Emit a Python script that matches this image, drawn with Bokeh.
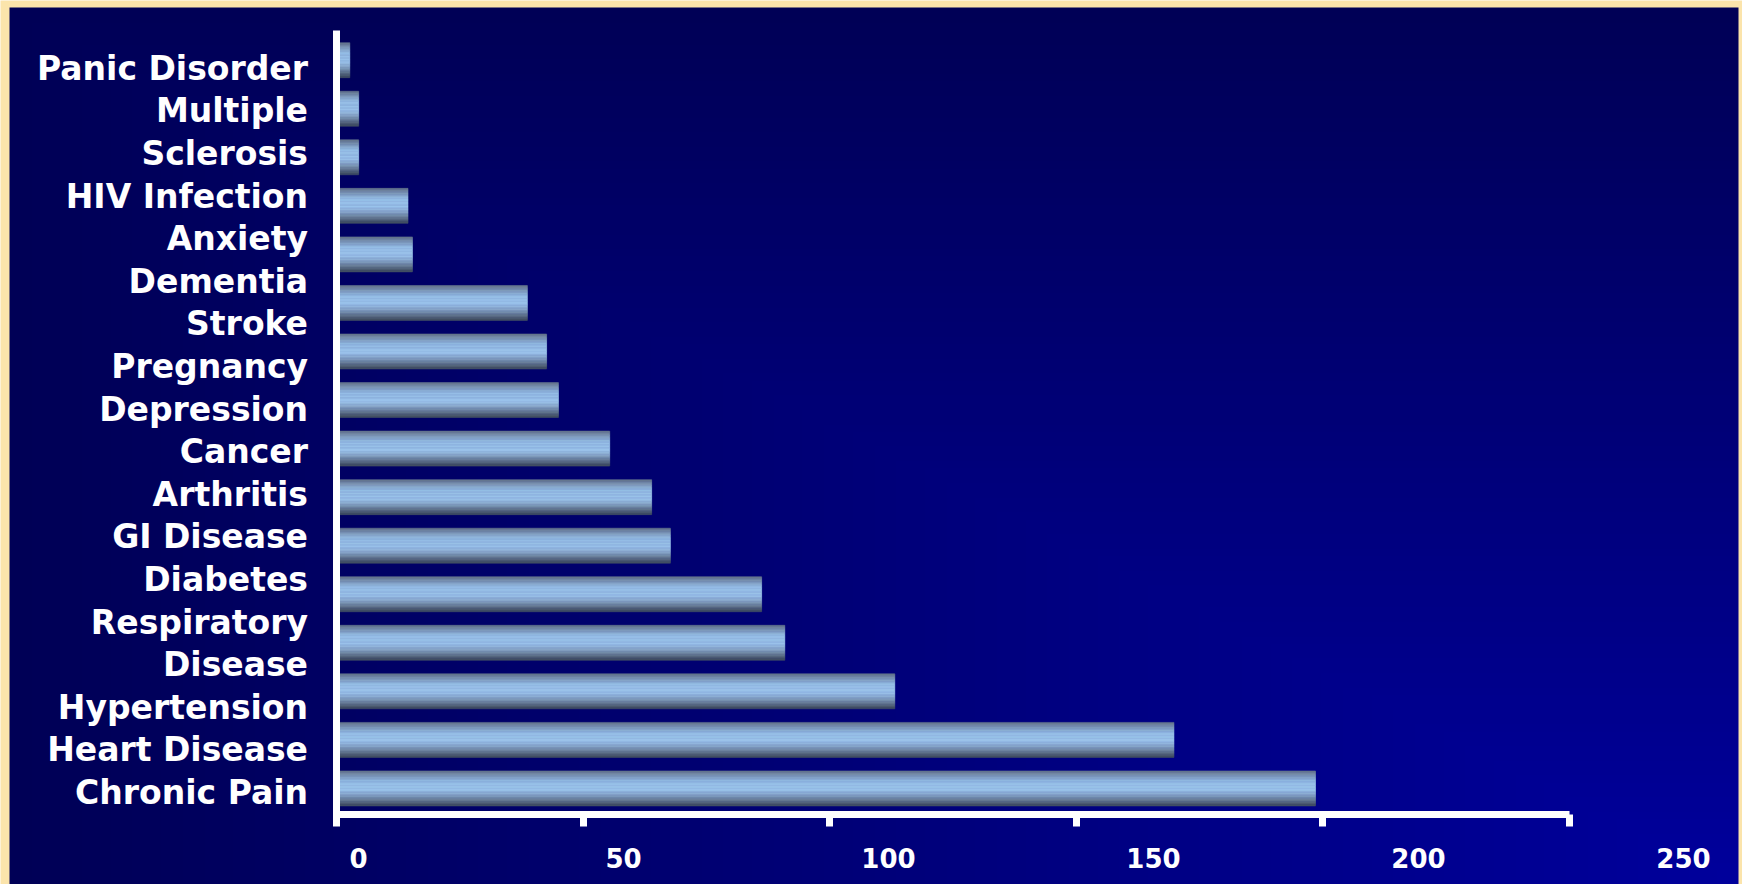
import numpy as np
from bokeh.plotting import figure
from bokeh.models import ColumnDataSource, Range1d, LinearAxis, FixedTicker
from bokeh.transform import dodge
from bokeh.core.properties import value
from bokeh.embed import file_html
from bokeh.resources import INLINE

# ---------------- data ----------------
categories = ["Panic Disorder", "Multiple Sclerosis", "HIV Infection", "Anxiety",
              "Dementia", "Stroke", "Pregnancy", "Depression", "Cancer", "Arthritis",
              "GI Disease", "Diabetes", "Respiratory Disease", "Hypertension",
              "Heart Disease", "Chronic Pain"]
values = [2.7, 4.5, 4.5, 14.5, 15.4, 38.7, 42.6, 45.0, 55.4, 63.9,
          67.7, 86.2, 90.9, 113.2, 169.8, 198.5]
label_lines = ["Panic Disorder", "Multiple", "Sclerosis", "HIV Infection", "Anxiety",
               "Dementia", "Stroke", "Pregnancy", "Depression", "Cancer", "Arthritis",
               "GI Disease", "Diabetes", "Respiratory", "Disease", "Hypertension",
               "Heart Disease", "Chronic Pain"]
tick_values = [0, 50, 100, 150, 200, 250]

# ---------------- layout (pixels on the canvas) ----------------
W, H = 1742, 884
X0_PX = 336.0          # canvas x of value 0
PX_PER_UNIT = 4.932    # pixels per value unit
ROW0_PX = 59.7         # canvas y of the first bar centre
ROW_PX = 48.55         # bar pitch
LINE0_PX = 67.8        # first label line centre
LINE_PX = 42.6         # label line pitch
TL0_PX = 358.0         # canvas x of tick label "0"
TL_PX_PER_UNIT = 5.30  # tick label spacing per value unit
LABEL_RIGHT_PX = 307.5
AXIS_Y_PX = 813.5
YAXIS_TOP_PX = 30.0
YAXIS_BOT_PX = 825.0
PANEL = (9, 7, 1738, 884)   # dark slide panel: left, top, right, bottom
BAR_H = 0.72

def x_of(px):
    return (px - X0_PX) / PX_PER_UNIT

def y_of(px):
    return (px - ROW0_PX) / ROW_PX

p = figure(width=W, height=H,
           x_range=Range1d(x_of(0), x_of(W)),
           y_range=Range1d(y_of(H), y_of(0)),
           output_backend="svg", toolbar_location=None,
           x_axis_location=None, y_axis_location=None,
           min_border=0, outline_line_color=None,
           background_fill_color="#fbe4ab", border_fill_color="#fbe4ab")
p.xgrid.grid_line_color = None
p.ygrid.grid_line_color = None

p.extra_x_ranges = {"bg": Range1d(0, W),
                    "ticklab": Range1d(-TL0_PX / TL_PX_PER_UNIT, (W - TL0_PX) / TL_PX_PER_UNIT)}
p.extra_y_ranges = {"bg": Range1d(0, H),
                    "lines": Range1d((H - LINE0_PX) / LINE_PX, -LINE0_PX / LINE_PX)}

# ---------------- background gradient (brightening towards bottom-right corner) ----------------
R, C = 120, 240
u = (np.arange(C) + 0.5) / C
v = (np.arange(R) + 0.5) / R          # row 0 = bottom
f = 1.0 - np.maximum(1.0 - u[None, :], v[:, None])
img = np.zeros((R, C), dtype=np.uint32)
view = img.view(dtype=np.uint8).reshape((R, C, 4))
view[..., 0] = 0
view[..., 1] = 0
view[..., 2] = (86 + 70 * f).astype(np.uint8)
view[..., 3] = 255
pl, pt, pr, pb = PANEL
p.image_rgba(image=[img], x=pl, y=H - pb, dw=pr - pl, dh=pb - pt,
             x_range_name="bg", y_range_name="bg")

# ---------------- bars with cylinder shading ----------------
stops_t = [0.0, 0.12, 0.3, 0.55, 0.7, 0.85, 1.0]
stops_c = [(96, 112, 134), (122, 147, 178), (150, 190, 230), (156, 196, 236),
           (135, 165, 200), (100, 120, 145), (60, 72, 92)]
source = ColumnDataSource(dict(y=list(range(len(categories))), right=values, cat=categories))
K = 24
for k in range(K):
    t = (k + 0.5) / K
    col = tuple(int(round(np.interp(t, stops_t, [c[i] for c in stops_c]))) for i in range(3))
    off = -BAR_H / 2 + (k + 0.5) * BAR_H / K
    hx = "#%02x%02x%02x" % col
    p.hbar(y=dodge("y", off), left=0, right="right", height=BAR_H / K,
           fill_color=hx, line_color=hx, line_width=0.6, source=source)

# ---------------- category labels ----------------
lab_src = ColumnDataSource(dict(j=list(range(len(label_lines))), t=label_lines))
p.text(x=x_of(LABEL_RIGHT_PX), y="j", text="t", source=lab_src, y_range_name="lines",
       text_align="right", text_baseline="middle", text_color="white",
       text_font=value("DejaVu Sans"), text_font_style="bold", text_font_size="33px")

# ---------------- axes ----------------
xaxis = LinearAxis(fixed_location=y_of(AXIS_Y_PX), bounds=(0, 250),
                   ticker=FixedTicker(ticks=tick_values),
                   axis_line_color="white", axis_line_width=7,
                   major_tick_line_color="white", major_tick_line_width=7,
                   major_tick_out=12, major_tick_in=0, minor_tick_line_color=None,
                   major_label_overrides={t: "" for t in tick_values})
p.add_layout(xaxis, "below")

xlab = LinearAxis(x_range_name="ticklab", fixed_location=y_of(AXIS_Y_PX),
                  ticker=FixedTicker(ticks=tick_values),
                  axis_line_color=None, major_tick_line_color=None, minor_tick_line_color=None,
                  major_tick_out=0, major_tick_in=0, major_label_standoff=34,
                  major_label_text_color="white", major_label_text_font="DejaVu Sans",
                  major_label_text_font_style="bold", major_label_text_font_size="26px")
p.add_layout(xlab, "below")

yaxis = LinearAxis(fixed_location=0, bounds=(y_of(YAXIS_TOP_PX), y_of(YAXIS_BOT_PX)),
                   ticker=FixedTicker(ticks=[]),
                   axis_line_color="white", axis_line_width=7,
                   major_tick_line_color=None, minor_tick_line_color=None)
p.add_layout(yaxis, "left")

open("out.html", "w").write(file_html(p, INLINE))
